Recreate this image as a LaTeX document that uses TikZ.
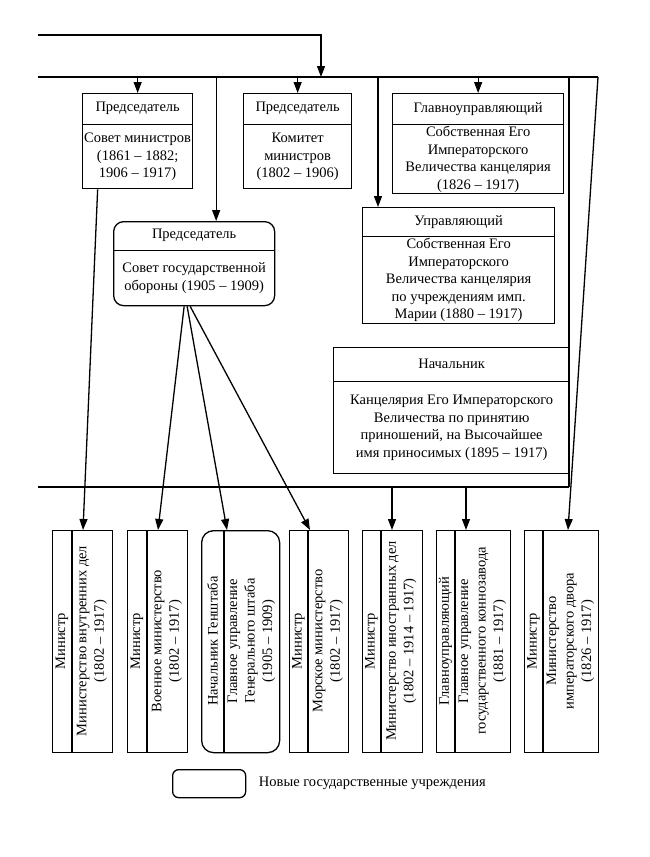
\documentclass[tikz,border=0pt]{standalone}
\usepackage{fontspec}
\setmainfont{Liberation Serif}
\usetikzlibrary{arrows.meta,positioning}

\begin{document}
\begin{tikzpicture}[x=1pt,y=-1pt,line width=1.3pt,
  every node/.style={font=\fontsize{14.5}{17.5}\selectfont},
  arr/.style={-{Triangle[length=11pt,width=8pt]}},
  frame/.style={draw,inner sep=0pt,anchor=north west},
  hdr/.style={inner sep=0pt,anchor=north},
  txt/.style={inner sep=0pt,align=center}]
  \useasboundingbox (0,0) rectangle (650,857);

  % upper row
  \node[frame,minimum width=110,minimum height=95] (sovmin) at (82,93) {};
  \node[hdr,minimum width=110,minimum height=30] (sovminH) at (sovmin.north) {Председатель};
  \draw (sovminH.south west) -- (sovminH.south east);
  \path (sovminH.south) -- (sovmin.south) node[midway,txt] (sovminB) {Совет министров\\(1861 – 1882;\\1906 – 1917)};

  \node[frame,minimum width=108,minimum height=95] (komitet) at (243,93) {};
  \node[hdr,minimum width=108,minimum height=30] (komitetH) at (komitet.north) {Председатель};
  \draw (komitetH.south west) -- (komitetH.south east);
  \path (komitetH.south) -- (komitet.south) node[midway,txt] (komitetB) {Комитет\\министров\\(1802 – 1906)};

  \node[frame,minimum width=171,minimum height=100] (kanc) at (392,93) {};
  \node[hdr,minimum width=171,minimum height=30] (kancH) at (kanc.north) {Главноуправляющий};
  \draw (kancH.south west) -- (kancH.south east);
  \path (kancH.south) -- (kanc.south) node[midway,txt] (kancB) {Собственная Его\\Императорского\\Величества канцелярия\\(1826 – 1917)};

  % middle
  \node[frame,rounded corners=10pt,minimum width=161,minimum height=84] (sgo) at (113,221) {};
  \node[hdr,minimum width=161,minimum height=28] (sgoH) at (sgo.north) {Председатель};
  \draw (sgoH.south west) -- (sgoH.south east);
  \path (sgoH.south) -- (sgo.south) node[midway,txt] (sgoB) {Совет государственной\\обороны (1905 – 1909)};

  \node[frame,minimum width=192,minimum height=116] (upr) at (362,207) {};
  \node[hdr,minimum width=192,minimum height=28] (uprH) at (upr.north) {Управляющий};
  \draw (uprH.south west) -- (uprH.south east);
  \path (uprH.south) -- (upr.south) node[midway,txt] (uprB) {Собственная Его\\Императорского\\Величества канцелярия\\по учреждениям имп.\\Марии (1880 – 1917)};

  \node[frame,minimum width=236,minimum height=126] (nach) at (333,347) {};
  \node[hdr,minimum width=236,minimum height=33] (nachH) at (nach.north) {Начальник};
  \draw (nachH.south west) -- (nachH.south east);
  \path (nachH.south) -- (nach.south) node[midway,txt] (nachB) {Канцелярия Его Императорского\\Величества по принятию\\приношений, на Высочайшее\\имя приносимых (1895 – 1917)};

  % lower row
  \node[frame,minimum width=60,minimum height=222] (vnutr) at (52,530) {};
  \draw (72,530) -- (72,752);
  \node[txt,rotate=90] (vnutrA) at (62,641) {Министр};
  \node[txt,rotate=90] (vnutrB) at (92,641) {Министерство внутренних дел\\(1802 – 1917)};

  \node[frame,minimum width=60,minimum height=222] (voen) at (127,530) {};
  \draw (147,530) -- (147,752);
  \node[txt,rotate=90] (voenA) at (137,641) {Министр};
  \node[txt,rotate=90] (voenB) at (167,641) {Военное министерство\\(1802 – 1917)};

  \node[frame,rounded corners=12pt,minimum width=78,minimum height=222] (gensht) at (201,530) {};
  \draw (224,530) -- (224,752);
  \node[txt,rotate=90] (genshtA) at (212.5,641) {Начальник Генштаба};
  \node[txt,rotate=90] (genshtB) at (251.5,641) {Главное управление\\Генерального штаба\\(1905 – 1909)};

  \node[frame,minimum width=59,minimum height=222] (morsk) at (289,530) {};
  \draw (308,530) -- (308,752);
  \node[txt,rotate=90] (morskA) at (298.5,641) {Министр};
  \node[txt,rotate=90] (morskB) at (328,641) {Морское министерство\\(1802 – 1917)};

  \node[frame,minimum width=60,minimum height=222] (inostr) at (362,530) {};
  \draw (381,530) -- (381,752);
  \node[txt,rotate=90] (inostrA) at (371.5,641) {Министр};
  \node[txt,rotate=90] (inostrB) at (401.5,641) {Министерство иностранных дел\\(1802 – 1914 – 1917)};

  \node[frame,minimum width=74,minimum height=222] (konn) at (436,530) {};
  \draw (455,530) -- (455,752);
  \node[txt,rotate=90] (konnA) at (445.5,641) {Главноуправляющий};
  \node[txt,rotate=90] (konnB) at (482.5,641) {Главное управление\\государственного коннозавода\\(1881 – 1917)};

  \node[frame,minimum width=74,minimum height=222] (dvor) at (524,530) {};
  \draw (543,530) -- (543,752);
  \node[txt,rotate=90] (dvorA) at (533.5,641) {Министр};
  \node[txt,rotate=90] (dvorB) at (570.5,641) {Министерство\\императорского двора\\(1826 – 1917)};

  % legend
  \node[frame,rounded corners=6pt,minimum width=73,minimum height=28] (legbox) at (172,769) {};
  \node[right=12pt of legbox,inner sep=0pt] (legtxt) {Новые государственные учреждения};

  % lines
  \coordinate (src) at (38,35);
  \coordinate (join) at (321,77);
  \coordinate (busL) at (38,77);
  \coordinate (busR) at (598,77);
  \coordinate (bus2L) at (38,487);
  \coordinate (bus2R) at (569,487);
  \draw (busL) -- (busR);
  \draw (bus2L) -- (bus2R);
  \draw (bus2R |- busL) -- (bus2R);
  \draw[arr] (src) -| (join);

  \draw[arr] (sovmin.north |- busL) -- (sovmin.north);
  \draw[arr] (komitet.north |- busL) -- (komitet.north);
  \draw[arr] (kanc.north |- busL) -- (kanc.north);
  \coordinate (sgoIn) at ([xshift=22pt]sgo.north);
  \draw[arr] (sgoIn |- busL) -- (sgoIn);
  \coordinate (uprIn) at ([xshift=16pt]upr.north west);
  \draw[arr] (uprIn |- busL) -- (uprIn);

  \coordinate (vnutrIn) at ([xshift=31pt]vnutr.north west);
  \coordinate (voenIn) at ([xshift=31pt]voen.north west);
  \coordinate (genshtIn) at ([xshift=26pt]gensht.north west);
  \coordinate (morskIn) at ([xshift=21pt]morsk.north west);
  \coordinate (inostrIn) at ([xshift=30pt]inostr.north west);
  \coordinate (konnIn) at ([xshift=30pt]konn.north west);
  \coordinate (dvorIn) at ([xshift=44pt]dvor.north west);

  \draw[arr] ([xshift=-40pt]sovmin.south) -- (vnutrIn);
  \draw[arr] ([xshift=-10pt]sgo.south) -- (voenIn);
  \draw[arr] ([xshift=-7pt]sgo.south) -- (genshtIn);
  \draw[arr] ([xshift=-4pt]sgo.south) -- (morskIn);
  \draw[arr] (inostrIn |- bus2L) -- (inostrIn);
  \draw[arr] (konnIn |- bus2L) -- (konnIn);
  \draw[arr] (busR) -- (dvorIn);
\end{tikzpicture}
\end{document}
